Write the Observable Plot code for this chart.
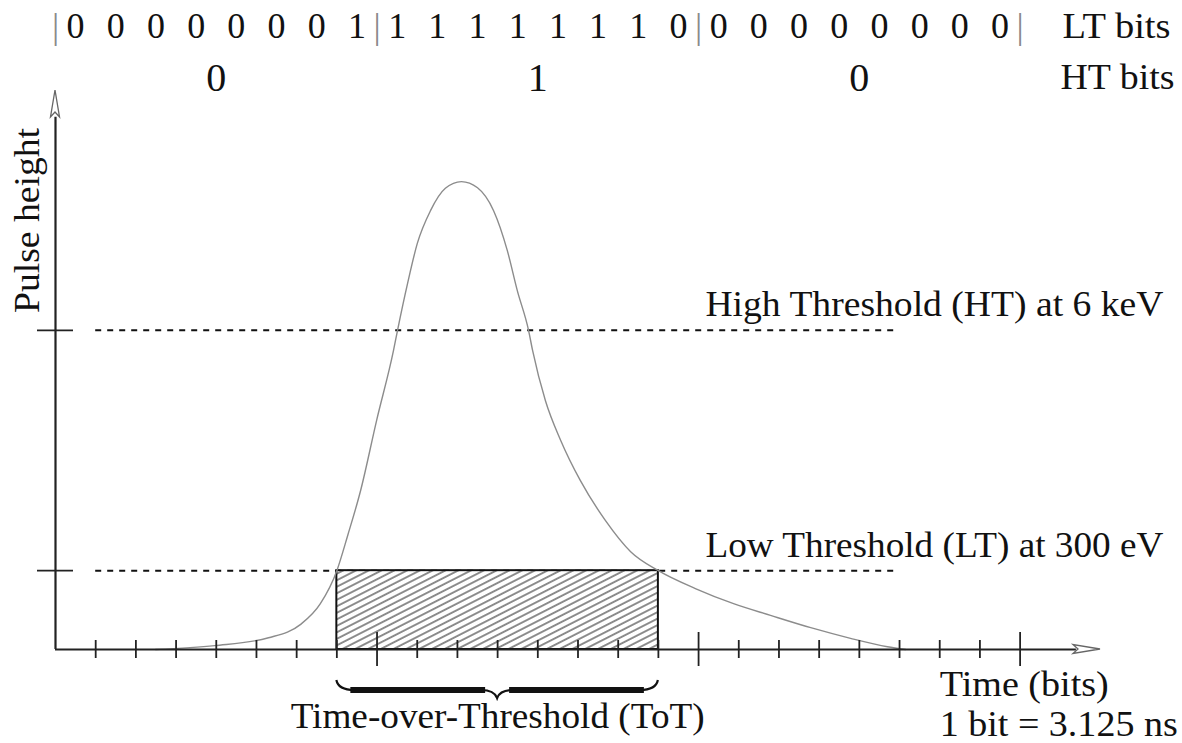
<!DOCTYPE html>
<html>
<head>
<meta charset="utf-8">
<script src="https://cdn.jsdelivr.net/npm/d3@7"></script>
<script src="https://cdn.jsdelivr.net/npm/@observablehq/plot@0.6"></script>
<style>
  html, body { margin: 0; padding: 0; background: #fff; }
  svg { display: block; }
</style>
</head>
<body>
<div id="chart"></div>
<script>
// ---------- data ----------
const ltBits = [0,0,0,0,0,0,0,1, 1,1,1,1,1,1,1,0, 0,0,0,0,0,0,0,0];
const htBits = [0, 1, 0];
const bitsPerGroup = 8;
const groupBoundaries = [0, 8, 16, 24];

// pulse shape (time in bits, height in arbitrary units 0..100)
const pulseTime   = [2.49, 3.96, 5.30, 6.10, 6.59, 7.00, 7.27, 7.59, 7.99, 8.41, 8.51, 8.76, 9.00, 9.33, 9.70, 10.10, 10.50, 10.90, 11.24, 11.49, 11.77, 11.87, 12.19, 12.57, 13.06, 13.68, 14.31, 15.00, 15.92, 16.87, 17.79, 18.79, 19.78, 20.70, 21.15];
const pulseHeight = [0.0, 0.7, 2.1, 4.5, 8.2, 14.1, 20.4, 28.4, 41.0, 53.5, 57.1, 65.5, 72.6, 78.5, 82.5, 83.7, 82.6, 78.5, 71.4, 64.2, 57.1, 53.5, 44.5, 37.4, 30.2, 23.1, 17.5, 14.1, 10.9, 8.2, 6.1, 3.9, 2.0, 0.5, 0.0];

const thresholdNames  = ["High Threshold (HT) at 6 keV", "Low Threshold (LT) at 300 eV"];
const thresholdLevels = [57.1, 14.1];
const thresholdSpan   = [1, 20.9];   // bits covered by the dotted threshold lines
const totSpan         = [7, 15];     // Time-over-Threshold interval (bits)
const majorTicks      = [8, 16, 24];
const minorTicks      = d3.range(1, 24).filter(b => b % 8 !== 0);

const axisLabelX = "Time (bits)";
const axisNoteX  = "1 bit = 3.125 ns";
const axisLabelY = "Pulse height";
const totLabel   = "Time-over-Threshold (ToT)";
const rowLabels  = ["LT bits", "HT bits"];

// ---------- chart ----------
const FONT = "Liberation Serif";
const INK = "#111";
const FS = 36;
const lowT = thresholdLevels[1];

const pulse = pulseTime.map((t, i) => ({t, h: pulseHeight[i]}));
const ltRow = ltBits.map((b, i) => ({t: i + 0.5, b: String(b)}));
const htRow = htBits.map((b, i) => ({t: (i + 0.5) * bitsPerGroup, b: String(b)}));
const thresholds = thresholdLevels.map((v, i) => ({v, name: thresholdNames[i]}));
const T = {fontFamily: FONT, fontSize: FS, fill: INK, lineAnchor: "bottom"};

const chart = Plot.plot({
  width: 1182,
  height: 743,
  marginLeft: 55,
  marginRight: 82,
  marginTop: 90,
  marginBottom: 94,
  x: {domain: [0, 26], axis: null},
  y: {domain: [0, 100], axis: null},
  style: {background: "#fff", color: INK, overflow: "visible"},
  marks: [
    // dotted threshold lines
    Plot.ruleY(thresholds, {y: "v", x1: thresholdSpan[0], x2: thresholdSpan[1], stroke: INK, strokeWidth: 2, strokeDasharray: "6,6"}),
    // ToT hatched box
    Plot.rect([{a: totSpan[0], b: totSpan[1]}], {x1: "a", x2: "b", y1: 0, y2: lowT, fill: "url(#hatch)", stroke: INK, strokeWidth: 2}),
    // pulse
    Plot.line(pulse, {x: "t", y: "h", curve: "monotone-x", stroke: "#8c8c8c", strokeWidth: 1.4}),
    // axes
    Plot.ruleY([0], {x1: 0, x2: 25.4, stroke: "#222", strokeWidth: 2.2}),
    Plot.ruleX([0], {y1: 0, y2: 95.2, stroke: "#222", strokeWidth: 2.2}),
    // x ticks
    Plot.ruleX(minorTicks, {y1: 0, y2: 0, insetTop: -9, insetBottom: -9, stroke: "#222", strokeWidth: 1.8}),
    Plot.ruleX(majorTicks, {y1: 0, y2: 0, insetTop: -17, insetBottom: -17, stroke: "#222", strokeWidth: 1.8}),
    // y ticks at thresholds
    Plot.ruleY(thresholdLevels, {x1: 0, x2: 0, insetLeft: -18, insetRight: -18, stroke: "#222", strokeWidth: 1.8}),
    // threshold labels
    Plot.text(thresholds, {...T, x: 16.17, y: "v", text: "name", textAnchor: "start", dy: -14}),
    // bit rows
    Plot.text(ltRow, {...T, x: "t", text: "b", frameAnchor: "top", dy: -53}),
    Plot.text(groupBoundaries, {...T, x: d => d, text: () => "|", frameAnchor: "top", dy: -53, fill: "#8a8a8a"}),
    Plot.text(htRow, {...T, x: "t", text: "b", frameAnchor: "top", dy: 0, fontSize: 40}),
    Plot.text([rowLabels[0]], {...T, frameAnchor: "top-right", textAnchor: "start", dx: -38, dy: -53}),
    Plot.text([rowLabels[1]], {...T, frameAnchor: "top-right", textAnchor: "start", dx: -40, dy: -2}),
    // axis labels
    Plot.text([axisLabelY], {...T, frameAnchor: "top-left", rotate: -90, textAnchor: "middle", dx: -17, dy: 130}),
    Plot.text([axisLabelX], {...T, x: 22, y: 0, textAnchor: "start", dy: 46}),
    Plot.text([axisNoteX], {...T, x: 22, y: 0, textAnchor: "start", dy: 86}),
    Plot.text([totLabel], {...T, x: (totSpan[0] + totSpan[1]) / 2, y: 0, textAnchor: "middle", dy: 78})
  ]
});

document.getElementById("chart").appendChild(chart);

// widen the labels a little, as the original's Computer Modern set them
const labelWidths = new Map([
  [thresholdNames[0], 458], [thresholdNames[1], 458], [totLabel, 414],
  [axisLabelX, 169], [axisNoteX, 238], [rowLabels[0], 108], [rowLabels[1], 114], [axisLabelY, 185]
]);
d3.select(chart).selectAll("text").each(function () {
  const w = labelWidths.get(this.textContent);
  if (w) { this.setAttribute("textLength", w); this.setAttribute("lengthAdjust", "spacingAndGlyphs"); }
});

// ---------- decorations through the plot's scales ----------
const xs = v => chart.scale("x").apply(v);
const ys = v => chart.scale("y").apply(v);
const svg = d3.select(chart);

// hatch pattern
const defs = svg.insert("defs", ":first-child");
const pat = defs.append("pattern")
  .attr("id", "hatch")
  .attr("patternUnits", "userSpaceOnUse")
  .attr("width", 12).attr("height", 5.8)
  .attr("patternTransform", "rotate(-27)");
pat.append("rect").attr("width", 12).attr("height", 5.8).attr("fill", "#fff");
pat.append("line").attr("x1", 0).attr("y1", 2.9).attr("x2", 12).attr("y2", 2.9)
  .attr("stroke", "#333").attr("stroke-width", 1.1);

const deco = svg.append("g");

// x arrow head
const xt = xs(26), y0 = ys(0);
deco.append("path")
  .attr("d", `M${xt},${y0} L${xt - 27},${y0 - 4.5} L${xt - 22},${y0} L${xt - 27},${y0 + 4.5} Z`)
  .attr("fill", "#fff").attr("stroke", "#666").attr("stroke-width", 1.3);
// y arrow head
const x0 = xs(0), yt = ys(100);
deco.append("path")
  .attr("d", `M${x0},${yt} L${x0 - 4.5},${yt + 27} L${x0},${yt + 22} L${x0 + 4.5},${yt + 27} Z`)
  .attr("fill", "#fff").attr("stroke", "#666").attr("stroke-width", 1.3);

// brace under the ToT interval
const bx0 = xs(totSpan[0]), bx1 = xs(totSpan[1]), bxm = (bx0 + bx1) / 2;
const tipY = y0 + 31, barY = y0 + 41, cuspY = y0 + 49;
deco.append("path")
  .attr("d", `M${bx0},${tipY} Q${bx0 + 2},${barY} ${bx0 + 18},${barY} M${bx1},${tipY} Q${bx1 - 2},${barY} ${bx1 - 18},${barY}
              M${bxm - 16},${barY} Q${bxm - 3},${barY} ${bxm},${cuspY} Q${bxm + 3},${barY} ${bxm + 16},${barY}`)
  .attr("fill", "none").attr("stroke", INK).attr("stroke-width", 2.2);
deco.append("path")
  .attr("d", `M${bx0 + 14},${barY} L${bxm - 12},${barY} M${bxm + 12},${barY} L${bx1 - 14},${barY}`)
  .attr("fill", "none").attr("stroke", INK).attr("stroke-width", 6);
</script>
</body>
</html>
